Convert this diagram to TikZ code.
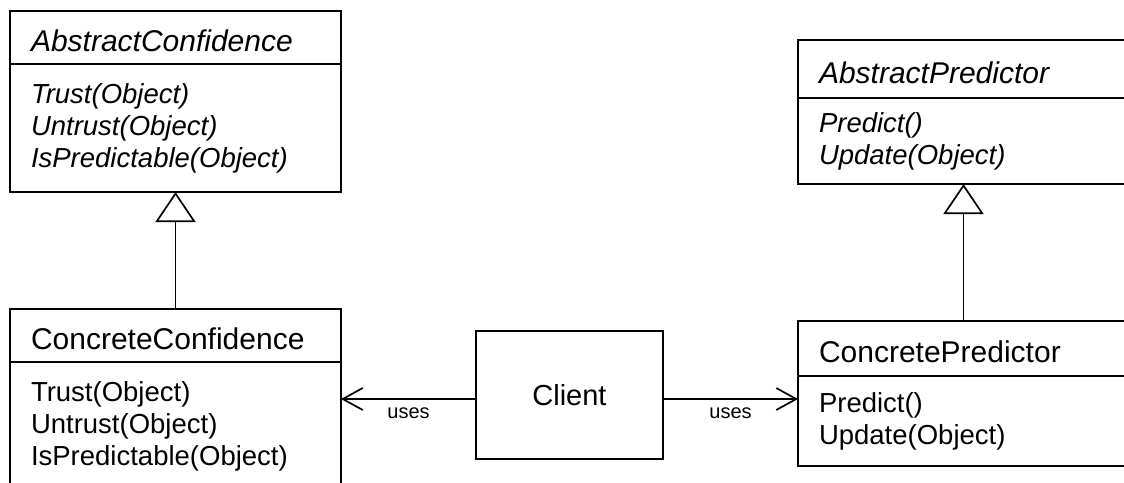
\documentclass[tikz,border=0pt]{standalone}
\usepackage{fontspec}
\setmainfont{Liberation Sans}
\usetikzlibrary{arrows.meta,positioning}

\begin{document}
\begin{tikzpicture}[x=1pt, y=-1pt, line width=1.7pt,
	classbox/.style={draw, rectangle, anchor=north west, outer sep=0pt, inner ysep=0pt,
		minimum width=331pt, text width=289pt, inner xsep=21pt, align=left},
	classhead/.style={classbox, minimum height=#1, text height=28pt, text depth=0pt,
		font=\fontsize{30}{32}\selectfont},
	classbody/.style={classbox, minimum height=#1, font=\fontsize{27.5}{32}\selectfont},
	clientbox/.style={draw, rectangle, outer sep=0pt, minimum width=187pt, minimum height=128pt,
		font=\fontsize{29}{32}\selectfont},
	inherit/.style={-{Triangle[open, length=30pt, width=40pt]}},
	uses/.style={-{Straight Barb[length=20pt, width=22pt]}},
	useslabel/.style={font=\fontsize{20}{24}\selectfont}]
	\useasboundingbox (0,0) rectangle (1124,482);
	\clip (0,0) rectangle (1124,482);
	\node[classhead=53pt] (achead) at (10,11) {\itshape AbstractConfidence};
	\node[classbody=128pt, below=0pt of achead] (acbody) {\itshape Trust(Object)\\ Untrust(Object)\\ IsPredictable(Object)};
	\node[classhead=53pt] (cchead) at (10,309) {ConcreteConfidence};
	\node[classbody=128pt, below=0pt of cchead] (ccbody) {Trust(Object)\\ Untrust(Object)\\ IsPredictable(Object)};
	\node[classhead=58pt] (aphead) at (798,40) {\itshape AbstractPredictor};
	\node[classbody=86pt, below=0pt of aphead] (apbody) {\itshape Predict()\\ Update(Object)};
	\node[classhead=55pt] (cphead) at (798,321) {ConcretePredictor};
	\node[classbody=90pt, below=0pt of cphead] (cpbody) {Predict()\\ Update(Object)};
	\node[clientbox] (client) at (569.5,395) {Client};
	\draw[inherit] (cchead) -- (acbody);
	\draw[inherit] (cphead) -- (apbody);
	\draw[uses] ([yshift=-4pt]client.west) -- ([yshift=-4pt]client.west -| ccbody.east)
		node[midway, below=5pt, useslabel] {uses};
	\draw[uses] ([yshift=-4pt]client.east) -- ([yshift=-4pt]client.east -| cpbody.west)
		node[midway, below=5pt, useslabel] {uses};
\end{tikzpicture}
\end{document}
